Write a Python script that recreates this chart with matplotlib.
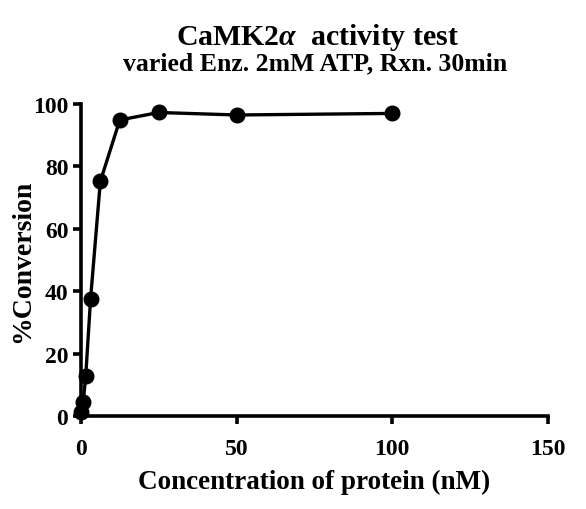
import matplotlib
matplotlib.use("Agg")
import matplotlib.pyplot as plt

plt.rcParams['font.family'] = ['Liberation Serif', 'DejaVu Serif']
plt.rcParams['font.weight'] = 'bold'
plt.rcParams['mathtext.fontset'] = 'custom'
plt.rcParams['mathtext.it'] = 'Liberation Serif:italic:bold'

# 데이터
conc = [0, 0.78, 1.56, 3.125, 6.25, 12.5, 25, 50, 100]
conversion = [1.2, 4.7, 12.9, 37.7, 75.2, 94.9, 97.3, 96.5, 97.0]
x_ticks = [0, 50, 100, 150]
y_ticks = [0, 20, 40, 60, 80, 100]

fig = plt.figure(figsize=(5.86, 5.10), dpi=100)
ax = fig.add_axes([0.138, 0.182, 0.797, 0.612])

ax.plot(conc, conversion, "k-", lw=2.4, marker="o", ms=10.5, clip_on=False, zorder=5)

ax.set_xlim(0, 150)
ax.set_ylim(0, 100)
ax.set_xticks(x_ticks)
ax.set_yticks(y_ticks)
for s in ["top", "right"]:
    ax.spines[s].set_visible(False)
for s in ["left", "bottom"]:
    ax.spines[s].set_linewidth(2.6)
ax.tick_params(width=2.6, length=6, labelsize=17, direction="out")
ax.tick_params(axis="x", pad=10)
ax.tick_params(axis="y", pad=3)
for lab in ax.get_xticklabels() + ax.get_yticklabels():
    lab.set_fontweight("bold")

ax.set_xlabel("Concentration of protein (nM)", fontsize=19.5, fontweight="bold", labelpad=7)
ax.set_ylabel("%Conversion", fontsize=20, fontweight="bold")
ax.yaxis.set_label_coords(-0.097, 0.5)

fig.text(0.541, 0.927, r"CaMK2$\alpha$  activity test", ha="center", va="center",
         fontsize=21.5, fontweight="bold")
fig.text(0.538, 0.875, "varied Enz. 2mM ATP, Rxn. 30min", ha="center", va="center",
         fontsize=18.5, fontweight="bold")

fig.savefig("out.png", dpi=100)
